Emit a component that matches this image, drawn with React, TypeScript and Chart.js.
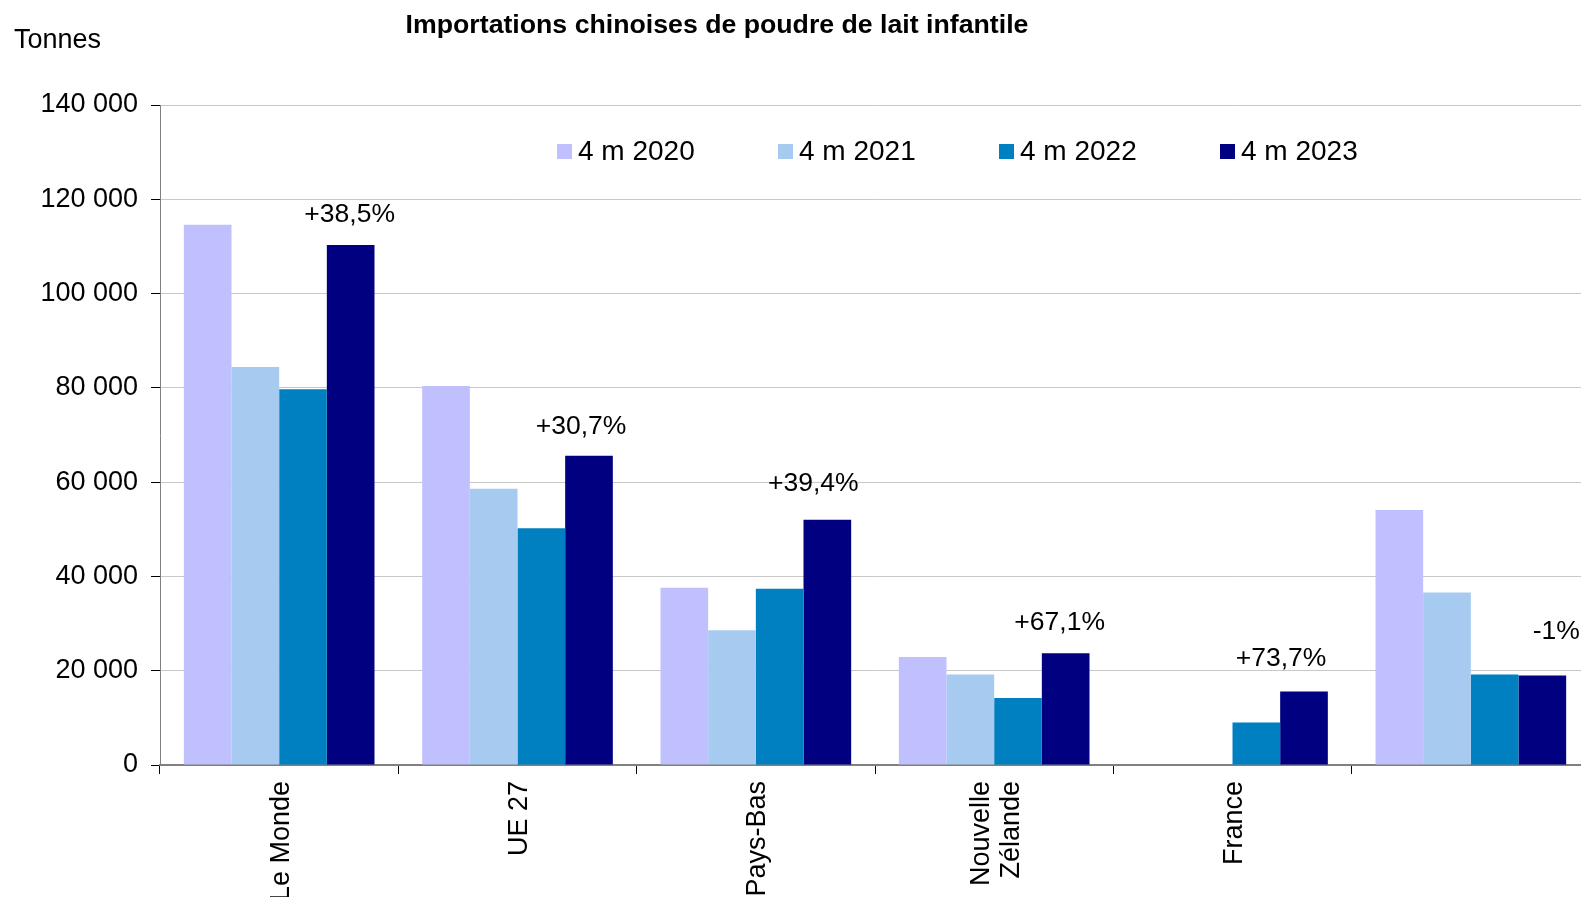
import React, { useEffect, useRef } from "react";
import { Chart, registerables } from "chart.js";

Chart.register(...registerables);

const categories: (string | string[])[] = ["Le Monde", "UE 27", "Pays-Bas", ["Nouvelle", "Zélande"], "France", ""];
const seriesNames = ["4 m 2020", "4 m 2021", "4 m 2022", "4 m 2023"];
const values2020: (number | null)[] = [114600, 80400, 37600, 22900, null, 54100];
const values2021: (number | null)[] = [84400, 58600, 28600, 19200, null, 36600];
const values2022: (number | null)[] = [79700, 50200, 37400, 14200, 9000, 19200];
const values2023: (number | null)[] = [110300, 65600, 52000, 23700, 15600, 19000];
const changeLabels = ["+38,5%", "+30,7%", "+39,4%", "+67,1%", "+73,7%", "-1%"];
const colors = ["#c0c0ff", "#a6caf0", "#0080c0", "#000080"];
const yTicks = [0, 20000, 40000, 60000, 80000, 100000, 120000, 140000];

const FONT = "'Liberation Sans', Arial, sans-serif";

const fmt = (v: number) => String(v).replace(/\B(?=(\d{3})+(?!\d))/g, " ");

const decorPlugin = {
  id: "decor",
  afterDraw(chart: any) {
    const ctx = chart.ctx;
    ctx.save();
    // title
    ctx.fillStyle = "#000";
    ctx.font = `bold 26.7px ${FONT}`;
    ctx.textAlign = "center";
    ctx.textBaseline = "middle";
    ctx.fillText("Importations chinoises de poudre de lait infantile", 717, 26);
    // unit
    ctx.font = `27px ${FONT}`;
    ctx.textAlign = "left";
    ctx.fillText("Tonnes", 14, 41);
    // legend
    const startX = 557;
    const step = 221;
    chart.data.datasets.forEach((ds: any, i: number) => {
      const x = startX + i * step;
      ctx.fillStyle = ds.backgroundColor;
      ctx.fillRect(x, 144, 15, 15);
      ctx.fillStyle = "#000";
      ctx.font = `28px ${FONT}`;
      ctx.textAlign = "left";
      ctx.textBaseline = "middle";
      ctx.fillText(ds.label, x + 21, 152);
    });
    // category labels (rotated, multi-line centred on category)
    const xs = chart.scales.x;
    const lineH = 30;
    ctx.font = `27px ${FONT}`;
    ctx.fillStyle = "#000";
    ctx.textAlign = "right";
    ctx.textBaseline = "middle";
    chart.data.labels.forEach((lab: any, i: number) => {
      const lines = Array.isArray(lab) ? lab : [lab];
      const cx = xs.getPixelForValue(i);
      const n = lines.length;
      lines.forEach((ln: string, j: number) => {
        if (!ln) return;
        const px = cx + (j - (n - 1) / 2) * lineH + 2;
        ctx.save();
        ctx.translate(px, xs.top + 16);
        ctx.rotate(-Math.PI / 2);
        ctx.fillText(ln, 0, 0);
        ctx.restore();
      });
    });
    // change labels above last series
    const offsets = [[-1, 30], [-8, 29], [-14, 36], [-6, 31], [-23, 33], [14, 44]];
    const meta = chart.getDatasetMeta(3);
    ctx.font = `26.5px ${FONT}`;
    ctx.textAlign = "center";
    ctx.textBaseline = "middle";
    ctx.fillStyle = "#000";
    meta.data.forEach((bar: any, i: number) => {
      const t = changeLabels[i];
      if (!t) return;
      const [dx, dy] = offsets[i];
      ctx.fillText(t, bar.x + dx, bar.y - dy);
    });
    ctx.restore();
  },
};

export default function App() {
  const ref = useRef<HTMLCanvasElement>(null);
  useEffect(() => {
    if (!ref.current) return;
    const seriesData = [values2020, values2021, values2022, values2023];
    const chart = new Chart(ref.current, {
      type: "bar",
      data: {
        labels: categories,
        datasets: seriesNames.map((name, i) => ({
          label: name,
          data: seriesData[i],
          backgroundColor: colors[i],
          borderWidth: 0,
          categoryPercentage: 0.8,
          barPercentage: 1.0,
        })),
      },
      options: {
        animation: false,
        responsive: false,
        maintainAspectRatio: false,
        layout: { padding: { top: 105, right: 10, left: 0, bottom: 0 } },
        plugins: {
          legend: { display: false },
          title: { display: false },
          tooltip: { enabled: false },
        },
        scales: {
          x: {
            offset: true,
            grid: {
              offset: true,
              drawOnChartArea: false,
              tickLength: 9,
              tickColor: "#000",
              tickWidth: 1,
            },
            border: { color: "#808080", width: 2 },
            ticks: {
              display: false,
              autoSkip: false,
            },
            afterFit: (s: any) => {
              s.height = 897 - 765;
            },
          },
          y: {
            min: 0,
            max: 140000,
            afterBuildTicks: (s: any) => {
              s.ticks = yTicks.map((v) => ({ value: v }));
            },
            grid: {
              color: "#c8c8c8",
              lineWidth: 1,
              tickLength: 9,
              tickColor: "#000",
            },
            border: { color: "#808080", width: 1 },
            ticks: {
              color: "#000",
              font: { family: FONT, size: 27 },
              padding: 13,
              callback: (v: any) => fmt(Number(v)),
            },
            afterFit: (s: any) => {
              s.width = 160;
            },
          },
        },
      },
      plugins: [decorPlugin],
    });
    return () => chart.destroy();
  }, []);
  return (
    <div style={{ position: "fixed", left: 0, top: 0, width: 1581, height: 897, overflow: "hidden", background: "#fff" }}>
      <canvas ref={ref} width={1600} height={897} style={{ width: 1600, height: 897, display: "block" }} />
    </div>
  );
}
